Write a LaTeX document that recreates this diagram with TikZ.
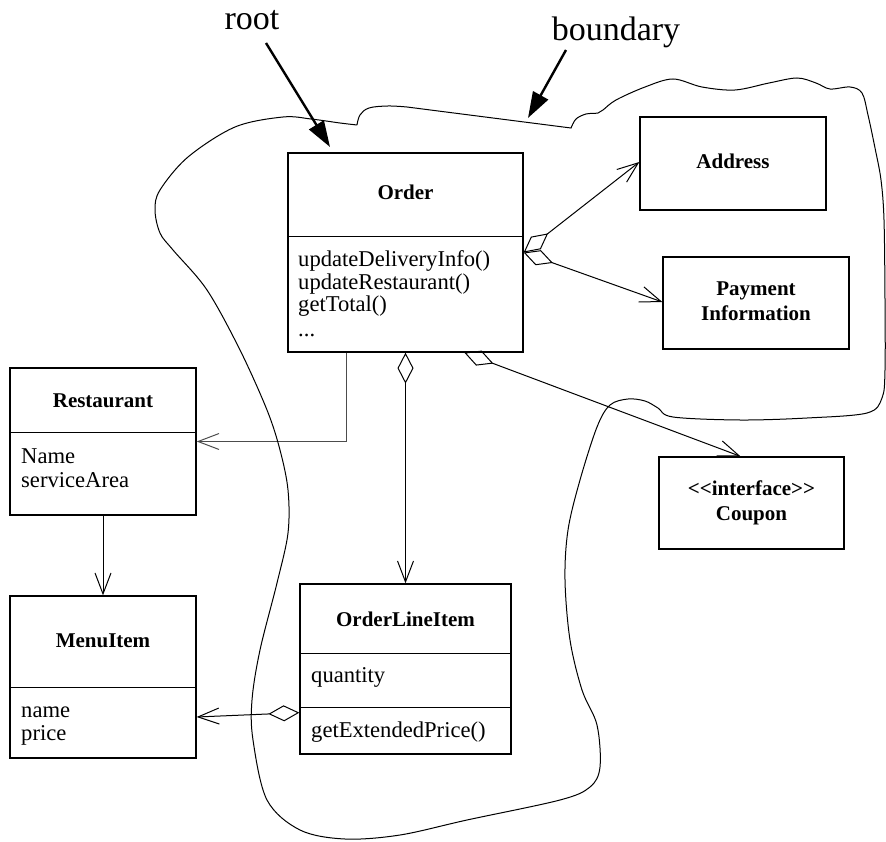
\documentclass[tikz,border=0pt]{standalone}
\usepackage{fontspec}
\setmainfont{Liberation Serif}
\usetikzlibrary{arrows.meta,calc}
\begin{document}
\begin{tikzpicture}[x=1pt,y=-1pt,
  classbox/.style={draw, line width=1.3pt, inner sep=0pt},
  title/.style={font=\fontsize{21}{25}\selectfont\bfseries, inner sep=0pt, anchor=base},
  member/.style={font=\fontsize{22.6}{26}\selectfont, inner sep=0pt, anchor=base west},
  divider/.style={line width=1.1pt},
  link/.style={line width=1pt},
  navi/.style={link, -{Straight Barb[length=21pt,width=16pt]}},
  agg/.style={link, {Diamond[open,length=31pt,width=16pt]}-{Straight Barb[length=21pt,width=16pt]}},
  pointer/.style={line width=2.4pt, -{Triangle[length=26pt,width=17pt]}},
  callout/.style={font=\fontsize{34}{40}\selectfont, inner sep=0pt, anchor=base},
  boundary/.style={line width=1pt}
]
\useasboundingbox (0,0) rectangle (886,842);

% ---------- class boxes ----------
\node[classbox, minimum width=235pt, minimum height=199pt] (order) at (405.5,252.5) {};
\node[classbox, minimum width=186pt, minimum height=93pt] (address) at (733,163.5) {};
\node[classbox, minimum width=186pt, minimum height=92pt] (payment) at (756,303) {};
\node[classbox, minimum width=186pt, minimum height=147pt] (restaurant) at (103,441.5) {};
\node[classbox, minimum width=186pt, minimum height=162pt] (menuitem) at (103,677) {};
\node[classbox, minimum width=211pt, minimum height=170pt] (oli) at (405.5,669) {};
\node[classbox, minimum width=185pt, minimum height=92pt] (coupon) at (751.5,503) {};

% compartments
\draw[divider] ($(order.north west)+(0,84)$) -- ($(order.north east)+(0,84)$);
\draw[divider] ($(restaurant.north west)+(0,65)$) -- ($(restaurant.north east)+(0,65)$);
\draw[divider] ($(menuitem.north west)+(0,92)$) -- ($(menuitem.north east)+(0,92)$);
\draw[divider] ($(oli.north west)+(0,70)$) -- ($(oli.north east)+(0,70)$);
\draw[divider] ($(oli.north west)+(0,124)$) -- ($(oli.north east)+(0,124)$);

% ---------- texts ----------
\node[title] (tOrder) at (405.5,200) {Order};
\node[member] (m1) at (298,267) {updateDeliveryInfo()};
\node[member] (m2) at (298,290) {updateRestaurant()};
\node[member] (m3) at (298,312) {getTotal()};
\node[member] (m4) at (298,337) {...};

\node[title] (tAddress) at (733,169) {Address};
\node[title] (tPay1) at (756,295) {Payment};
\node[title] (tPay2) at (756,320) {Information};

\node[title] (tRest) at (103,407) {Restaurant};
\node[member] (r1) at (21,463) {Name};
\node[member] (r2) at (21,487) {serviceArea};

\node[title] (tMenu) at (103,647) {MenuItem};
\node[member] (mi1) at (21,717) {name};
\node[member] (mi2) at (21,740) {price};

\node[title] (tOli) at (405.5,626) {OrderLineItem};
\node[member] (o1) at (311,682) {quantity};
\node[member] (o2) at (311,737) {getExtendedPrice()};

\node[title] (tCoup1) at (751.5,495) {<\kern0pt<interface>\kern0pt>};
\node[title] (tCoup2) at (751.5,520) {Coupon};

\node[callout] (root) at (252,30) {root};
\node[callout] (bnd) at (616,41) {boundary};

% ---------- connectors ----------
\draw[navi, black!70] ($(order.south west)+(59,0)$) |- (restaurant.east);
\draw[navi] (restaurant.south) -- (menuitem.north);
\draw[agg] (order.south) -- (oli.north);
\draw[agg] ([yshift=42pt]oli.south west) -- ([yshift=-40pt]menuitem.east);
\draw[agg] (order.east) -- ([yshift=1.5pt]address.west);
\draw[agg] (order.east) -- ([yshift=1pt]payment.west);
\draw[agg] ($(order.south west)+(177,0)$) -- ([xshift=-11pt]coupon.north);

% ---------- aggregate boundary ----------
\draw[boundary]
  plot[smooth, tension=0.6] coordinates {(357,125) (360,115) (369,108) (388,106) (407,107)}
  -- (571,128)
  -- plot[smooth, tension=0.55] coordinates {(571,128) (576,119) (586,114) (598,113) (603,110)
     (616,100) (645,87) (673,79) (702,87) (735,90) (769,83) (797,78) (816,83) (830,89)
     (850,87) (862,93) (868,115) (875,148) (881,180) (884,220) (885,300) (885,370) (882,398)
     (867,413) (807,418) (740,420) (673,417) (658,408) (645,401) (628,399) (610,405)
     (597,427) (580,480) (568,530) (565,580) (570,640) (582,690) (597,725) (600,767)
     (590,787) (560,800) (467,820) (400,835) (345,839) (300,830) (267,800) (253,740)
     (252,700) (260,650) (277,583) (288,533) (288,490) (280,450) (267,410) (240,350)
     (207,290) (173,250) (160,233) (155,210) (160,190) (188,157) (235,127) (283,117)
     (311,119) (340,123) (357,125)};

% ---------- callout arrows ----------
\coordinate (rootTail) at (266,43);
\coordinate (rootTip) at (330,147);
\coordinate (bndTail) at (566,50);
\coordinate (bndTip) at (528,118);
\draw[pointer] (rootTail) -- (rootTip);
\draw[pointer] (bndTail) -- (bndTip);
\end{tikzpicture}
\end{document}
